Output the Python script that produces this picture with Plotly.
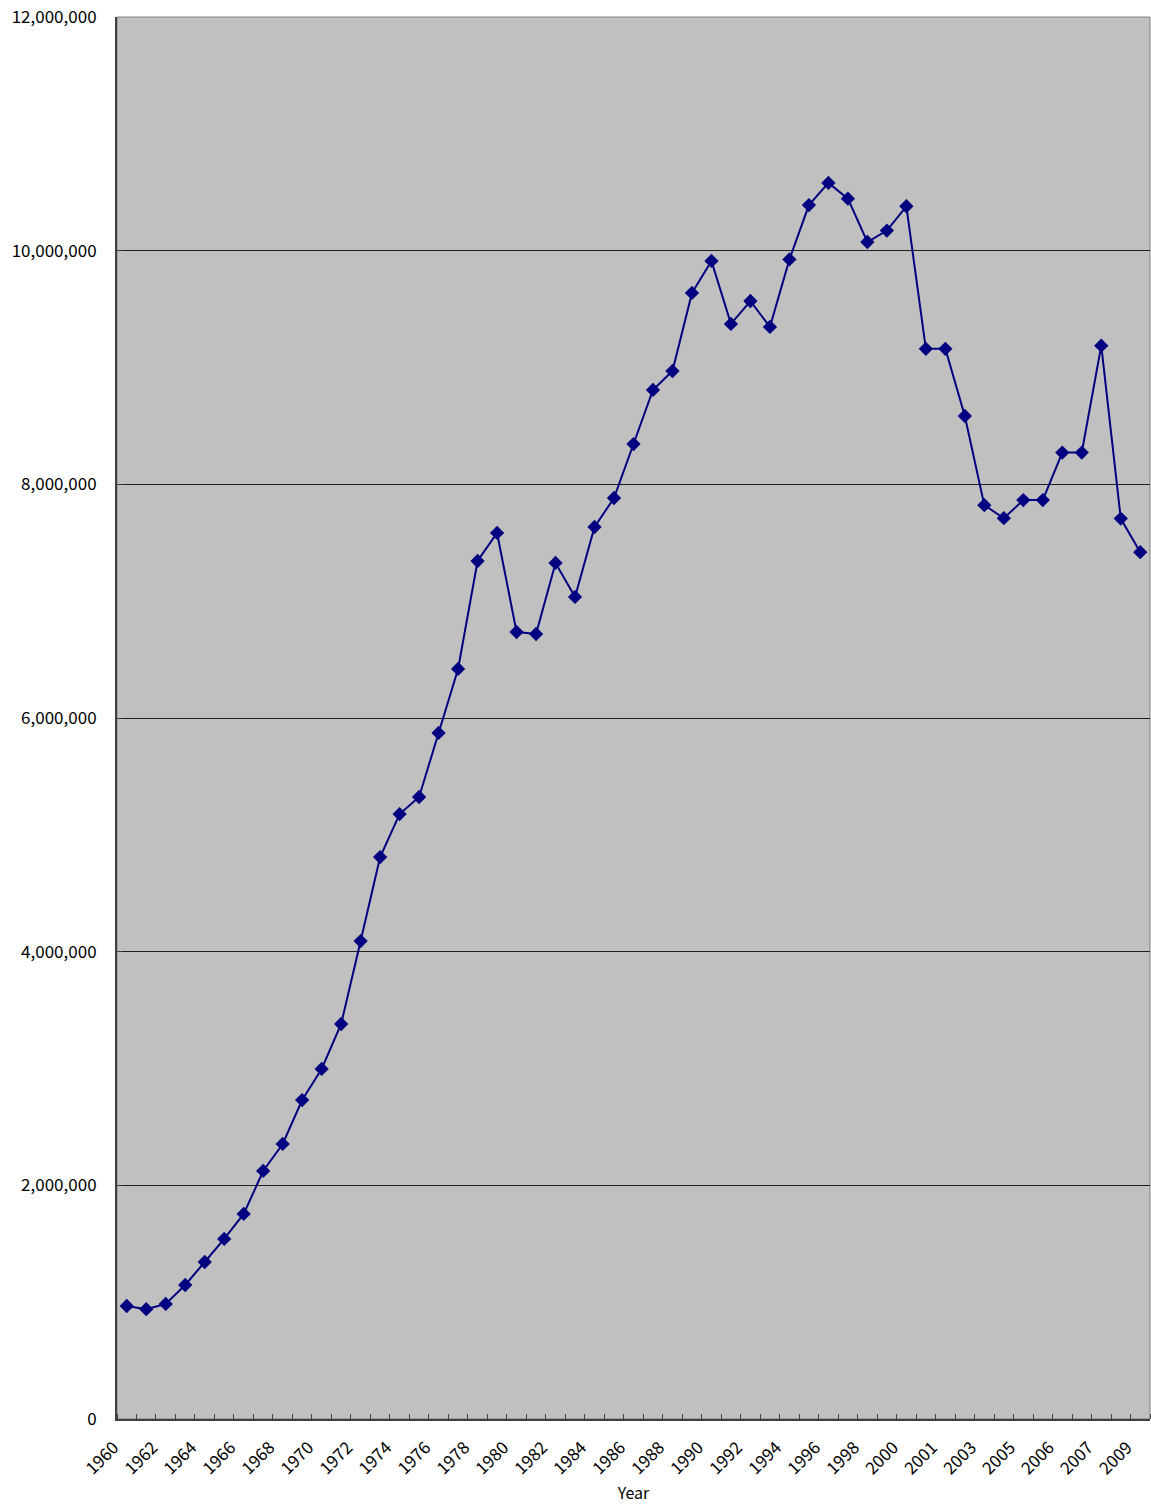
import plotly.graph_objects as go

# Category labels (one per data point; duplicated years occur in the source)
labels = [str(y) for y in range(1960, 2001)] + [
    "2000", "2001", "2002", "2003", "2004", "2005", "2005",
    "2006", "2006", "2007", "2008", "2009"]

values = [
    967000, 940000, 985000, 1147000, 1344000, 1541000, 1755000, 2123000,
    2354000, 2730000, 2996000, 3381000, 4091000, 4810000, 5178000, 5324000,
    5872000, 6420000, 7344000, 7584000, 6736000, 6719000, 7327000, 7036000,
    7635000, 7883000, 8345000, 8808000, 8970000, 9638000, 9912000, 9373000,
    9569000, 9347000, 9925000, 10390000, 10580000, 10445000, 10074000,
    10172000, 10380000, 9160000, 9160000, 8585000, 7822000, 7710000,
    7865000, 7865000, 8272000, 8272000, 9187000, 7707000, 7419000]

y_ticks = [0, 2000000, 4000000, 6000000, 8000000, 10000000, 12000000]

idx = list(range(len(values)))
font_family = "Noto Sans CJK JP, Noto Sans, sans-serif"

fig = go.Figure()
fig.add_trace(go.Scatter(
    x=idx, y=values, mode="lines+markers",
    line=dict(color="#000080", width=2),
    marker=dict(symbol="diamond", size=11, color="#000080"),
    showlegend=False,
))

fig.update_layout(
    width=1151, height=1504,
    margin=dict(l=117, r=1, t=17, b=85),
    paper_bgcolor="white",
    plot_bgcolor="#C0C0C0",
    font=dict(family=font_family, size=17, color="black"),
    xaxis=dict(
        range=[-0.5, len(values) - 0.5],
        tickmode="array",
        tickvals=idx[::2],
        ticktext=labels[::2],
        tickangle=-45,
        ticks="",
        showgrid=False,
        zeroline=False,
        showline=True, linecolor="#404040", linewidth=2,
        mirror=False,
        minor=dict(tick0=-0.5, dtick=1, ticks="inside", ticklen=5,
                   tickcolor="#404040", showgrid=False),
        ticklabelstandoff=10,
        ticklabelshift=-13,
        title=dict(text="Year", font=dict(size=16), standoff=10),
        tickfont=dict(size=17),
    ),
    yaxis=dict(
        range=[0, 12000000],
        tickmode="array",
        tickvals=y_ticks,
        tickformat=",d",
        ticks="inside", ticklen=5, tickcolor="#404040",
        showgrid=True, gridcolor="#202020", gridwidth=1,
        zeroline=False,
        showline=True, linecolor="#404040", linewidth=2,
        ticklabelstandoff=15,
        tickfont=dict(size=17),
    ),
    shapes=[dict(type="rect", xref="paper", yref="paper", x0=0, x1=1, y0=0, y1=1,
                 line=dict(color="#808080", width=1), layer="below")],
)

fig.write_html("out.html")
